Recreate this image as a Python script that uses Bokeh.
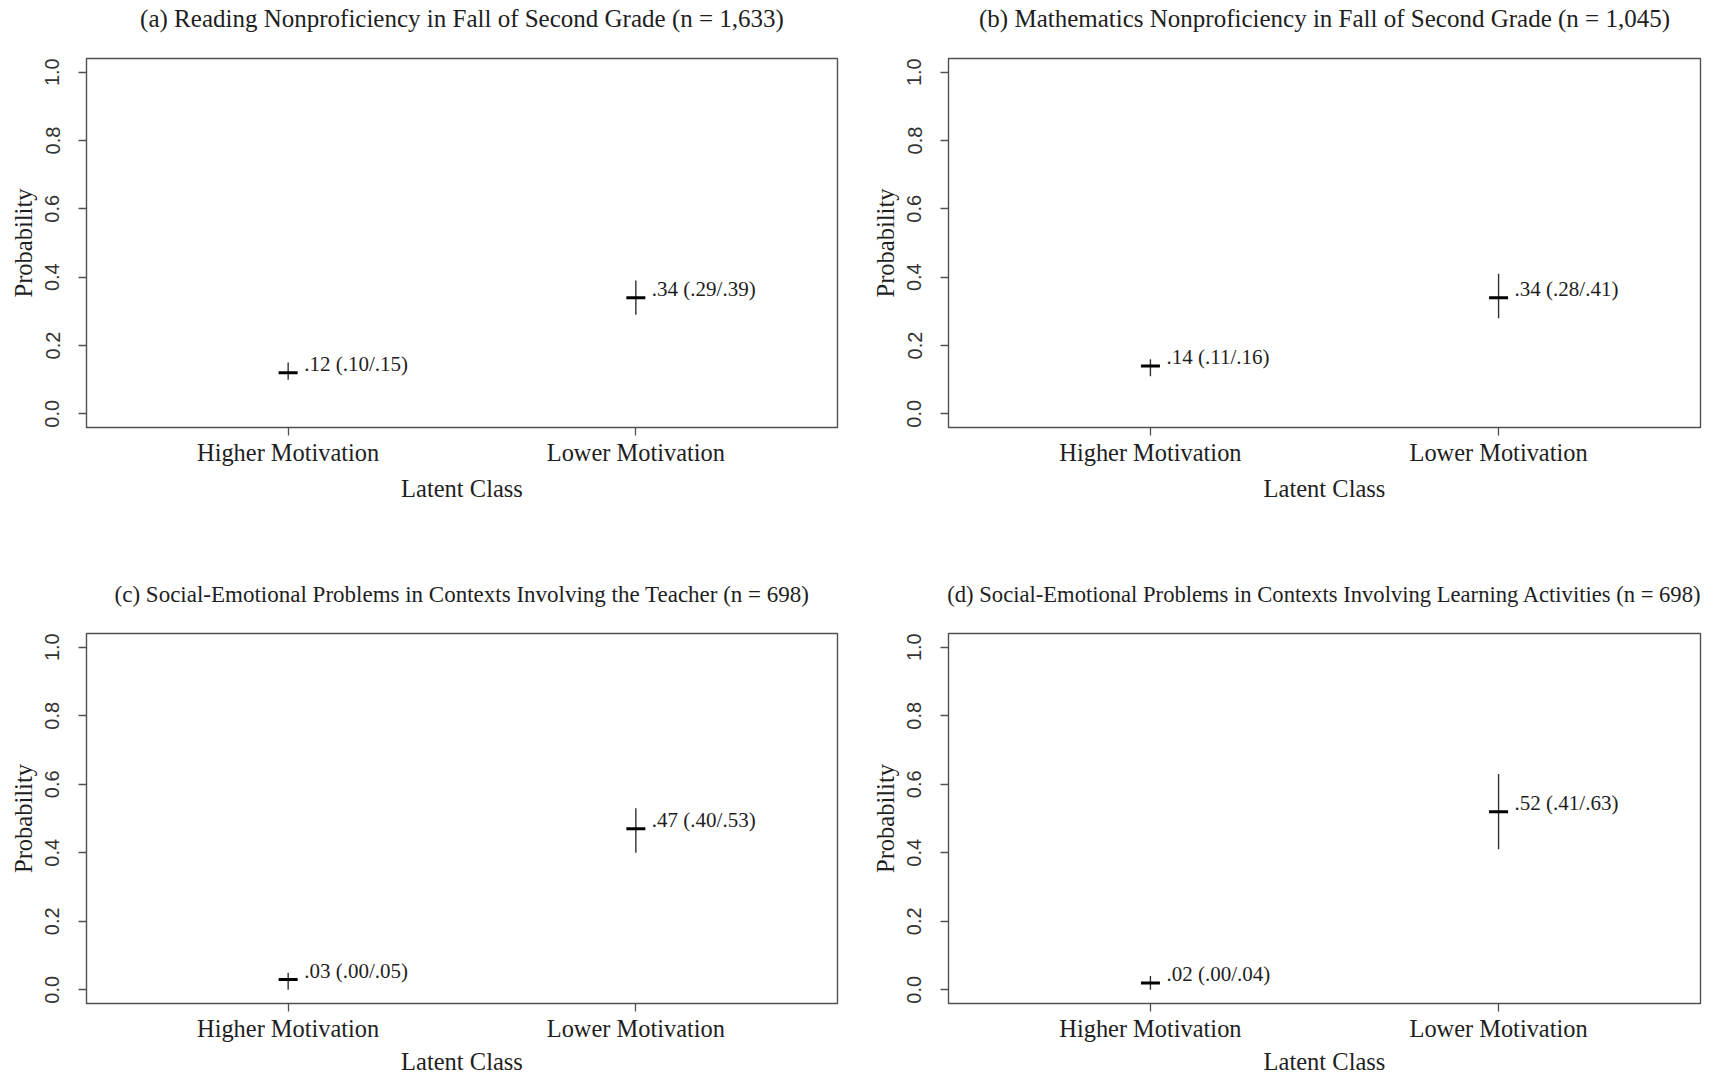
from bokeh.plotting import figure
from bokeh.layouts import column, row
from bokeh.models import FixedTicker, PrintfTickFormatter, ColumnDataSource
from bokeh.core.properties import value
from bokeh.embed import file_html
from bokeh.resources import INLINE

titles = [
    "(a) Reading Nonproficiency in Fall of Second Grade (n = 1,633)",
    "(b) Mathematics Nonproficiency in Fall of Second Grade (n = 1,045)",
    "(c) Social-Emotional Problems in Contexts Involving the Teacher (n = 698)",
    "(d) Social-Emotional Problems in Contexts Involving Learning Activities (n = 698)",
]
classes = ["Higher Motivation", "Lower Motivation"]
class_pos = [1, 2]
est = [[0.12, 0.34], [0.14, 0.34], [0.03, 0.47], [0.02, 0.52]]
lower = [[0.10, 0.29], [0.11, 0.28], [0.00, 0.40], [0.00, 0.41]]
upper = [[0.15, 0.39], [0.16, 0.41], [0.05, 0.53], [0.04, 0.63]]
y_ticks = [0.0, 0.2, 0.4, 0.6, 0.8, 1.0]

SERIF = "Liberation Serif"
SANS = "Liberation Sans"
BOX = "#505050"
TXT = "#1e1e1e"
X_LIM = (0.42, 2.58)
Y_LIM = (-0.04, 1.04)
TITLE_H = 40


def fmt(v):
    return ("%.2f" % v).lstrip("0") if v < 1 else "%.2f" % v


def title_fig(i, width, bl, br, size, yc):
    t = figure(width=width, height=TITLE_H, output_backend="svg", toolbar_location=None,
               x_range=(0, width), y_range=(0, TITLE_H), x_axis_type=None, y_axis_type=None,
               min_border_left=0, min_border_right=0, min_border_top=0, min_border_bottom=0,
               background_fill_color="white", border_fill_color="white")
    t.outline_line_color = None
    t.grid.visible = False
    cx = bl + (width - bl - br) / 2
    src = ColumnDataSource(dict(x=[cx], y=[TITLE_H - yc], s=[titles[i]]))
    t.text(x="x", y="y", text="s", source=src, text_font=value(SERIF), text_font_size=size,
           text_color=TXT, text_align="center", text_baseline="middle")
    return t


def make(i, width, height, bl, br, bt, bb, xl_standoff):
    p = figure(width=width, height=height, output_backend="svg", toolbar_location=None,
               x_range=X_LIM, y_range=Y_LIM,
               min_border_left=bl, min_border_right=br, min_border_top=bt, min_border_bottom=bb,
               background_fill_color="white", border_fill_color="white")
    p.grid.visible = False
    p.outline_line_color = BOX
    p.outline_line_width = 1.4

    xa = p.xaxis[0]
    xa.ticker = FixedTicker(ticks=class_pos)
    xa.major_label_overrides = {c: l for c, l in zip(class_pos, classes)}
    xa.axis_label = "Latent Class"
    ya = p.yaxis[0]
    ya.ticker = FixedTicker(ticks=y_ticks)
    ya.formatter = PrintfTickFormatter(format="%.1f")
    ya.axis_label = "Probability"
    ya.major_label_orientation = "vertical"

    for ax in (xa, ya):
        ax.axis_line_color = None
        ax.major_tick_line_color = BOX
        ax.major_tick_line_width = 1.3
        ax.major_tick_out = 8
        ax.major_tick_in = 0
        ax.minor_tick_line_color = None
        ax.axis_label_text_font = SERIF
        ax.axis_label_text_font_style = "normal"
        ax.axis_label_text_color = TXT
    xa.major_label_text_font = SERIF
    xa.major_label_text_font_size = "24.4px"
    xa.major_label_text_color = TXT
    xa.major_label_standoff = 3
    xa.axis_label_text_font_size = "24.5px"
    xa.axis_label_standoff = xl_standoff
    ya.major_label_text_font = SANS
    ya.major_label_text_font_size = "20px"
    ya.major_label_text_color = "#333333"
    ya.major_label_standoff = 19
    ya.axis_label_text_font_size = "24.5px"
    ya.axis_label_standoff = 6

    src = ColumnDataSource(dict(x=class_pos, y=est[i], lo=lower[i], hi=upper[i],
                                lab=["%s (%s/%s)" % (fmt(e), fmt(l), fmt(u))
                                     for e, l, u in zip(est[i], lower[i], upper[i])]))
    p.segment(x0="x", y0="lo", x1="x", y1="hi", source=src, line_color="#303030", line_width=1.4)
    p.scatter(x="x", y="y", source=src, marker="dash", size=19, line_color="black", line_width=3)
    p.text(x="x", y="y", text="lab", source=src, x_offset=16, y_offset=-9,
           text_font=value(SERIF), text_font_size="21px", text_color=TXT,
           text_baseline="middle", text_align="left")
    return p


# widths / borders of the two columns
WA, BLA, BRA = 863, 86, 26
WB, BLB, BRB = 850, 85, 13

ta = title_fig(0, WA, BLA, BRA, "25px", 18)
tb = title_fig(1, WB, BLB, BRB, "25px", 18)
pa = make(0, WA, 575 - TITLE_H, BLA, BRA, 58 - TITLE_H, 148, 6)
pb = make(1, WB, 575 - TITLE_H, BLB, BRB, 58 - TITLE_H, 148, 6)
tc = title_fig(2, WA, BLA, BRA, "23px", 19)
td = title_fig(3, WB, BLB, BRB, "22.6px", 19)
pc = make(2, WA, 502 - TITLE_H, BLA, BRA, 58 - TITLE_H, 74, 3)
pd = make(3, WB, 502 - TITLE_H, BLB, BRB, 58 - TITLE_H, 74, 3)

layout = column(row(ta, tb), row(pa, pb), row(tc, td), row(pc, pd))
open("out.html", "w").write(file_html(layout, INLINE))
